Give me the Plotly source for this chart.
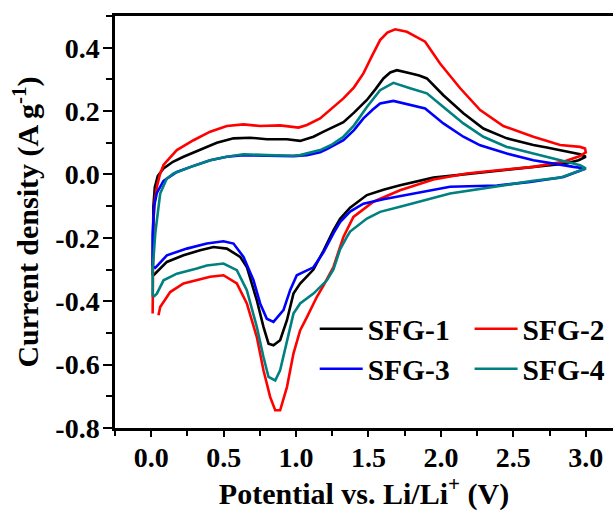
import plotly.graph_objects as go

# ---------------- data (potential V vs. current density A/g) ----------------
sfg1_v = [0.01, 0.01, 0.015, 0.025, 0.045, 0.085, 0.15, 0.223, 0.338, 0.453, 0.568, 0.683, 0.798, 0.937,
          1.028, 1.12, 1.19, 1.258, 1.327, 1.40, 1.489, 1.55, 1.603, 1.65, 1.696, 1.787, 1.85, 1.903, 2.017,
          2.155, 2.293, 2.455, 2.638, 2.731, 2.869, 2.961, 3.0,
          2.95, 2.869, 2.638, 2.409, 2.179, 1.948, 1.718, 1.603, 1.489, 1.373, 1.304, 1.258, 1.19, 1.12,
          1.028, 0.982, 0.937, 0.890, 0.844, 0.810, 0.775, 0.729, 0.660, 0.614, 0.522, 0.430, 0.338, 0.223,
          0.108, 0.016]
sfg1_i = [-0.318, -0.20, -0.10, -0.04, -0.005, 0.019, 0.040, 0.056, 0.077, 0.100, 0.114, 0.116, 0.111, 0.111,
          0.106, 0.119, 0.135, 0.150, 0.165, 0.195, 0.235, 0.27, 0.303, 0.322, 0.329, 0.319, 0.312, 0.303, 0.250,
          0.193, 0.145, 0.114, 0.093, 0.085, 0.072, 0.064, 0.056,
          0.045, 0.035, 0.024, 0.014, 0.003, -0.010, -0.034, -0.048, -0.065, -0.105, -0.140, -0.176, -0.24, -0.30,
          -0.344, -0.376, -0.460, -0.523, -0.539, -0.534, -0.481, -0.397, -0.292, -0.260, -0.234, -0.229, -0.239, -0.255,
          -0.276, -0.318]

sfg2_v = [0.01, 0.01, 0.015, 0.025, 0.039, 0.06, 0.085, 0.108, 0.177, 0.292, 0.407, 0.522, 0.637, 0.752,
          0.890, 1.017, 1.075, 1.166, 1.25, 1.327, 1.40, 1.465, 1.52, 1.580, 1.63, 1.684, 1.765, 1.84, 1.891,
          1.994, 2.133, 2.271, 2.431, 2.638, 2.823, 2.961, 2.995, 3.0,
          2.96, 2.846, 2.638, 2.409, 2.179, 1.948, 1.718, 1.534, 1.396, 1.327, 1.258, 1.19, 1.144, 1.075,
          1.028, 0.982, 0.937, 0.890, 0.856, 0.821, 0.775, 0.729, 0.660, 0.591, 0.499, 0.407, 0.315, 0.223,
          0.131, 0.062, 0.050]
sfg2_i = [-0.439, -0.30, -0.15, -0.08, -0.039, 0.0, 0.030, 0.042, 0.077, 0.108, 0.135, 0.153, 0.158, 0.153,
          0.155, 0.148, 0.156, 0.177, 0.21, 0.240, 0.275, 0.319, 0.37, 0.424, 0.448, 0.458, 0.450, 0.430, 0.419,
          0.350, 0.272, 0.203, 0.153, 0.119, 0.093, 0.087, 0.082, 0.070,
          0.058, 0.040, 0.024, 0.014, 0.003, -0.016, -0.050, -0.086, -0.134, -0.197, -0.292, -0.35, -0.386, -0.450,
          -0.492, -0.565, -0.671, -0.744, -0.744, -0.702, -0.618, -0.513, -0.407, -0.344, -0.318, -0.323, -0.334, -0.344,
          -0.371, -0.418, -0.444]

sfg3_v = [0.01, 0.01, 0.02, 0.039, 0.085, 0.177, 0.292, 0.407, 0.522, 0.637, 0.798, 0.982, 1.075, 1.166,
          1.213, 1.327, 1.40, 1.465, 1.530, 1.580, 1.672, 1.787, 1.891, 2.017, 2.155, 2.271, 2.455, 2.638,
          2.823, 2.915, 3.0,
          2.846, 2.616, 2.386, 2.063, 1.834, 1.603, 1.465, 1.373, 1.304, 1.258, 1.19, 1.12, 1.05, 1.005,
          0.959, 0.913, 0.844, 0.798, 0.752, 0.706, 0.637, 0.568, 0.499, 0.384, 0.246, 0.108, 0.028, 0.01]
sfg3_i = [-0.29, -0.19, -0.10, -0.058, -0.020, 0.008, 0.027, 0.045, 0.056, 0.061, 0.059, 0.058, 0.061, 0.070,
          0.080, 0.108, 0.140, 0.177, 0.205, 0.224, 0.232, 0.219, 0.208, 0.161, 0.119, 0.092, 0.066, 0.045,
          0.030, 0.024, 0.019,
          -0.008, -0.024, -0.035, -0.039, -0.058, -0.078, -0.092, -0.117, -0.150, -0.186, -0.245, -0.293, -0.308, -0.318,
          -0.365, -0.428, -0.465, -0.455, -0.407, -0.334, -0.260, -0.218, -0.211, -0.218, -0.234, -0.255, -0.295, -0.29]

sfg4_v = [0.01, 0.01, 0.028, 0.062, 0.108, 0.154, 0.292, 0.407, 0.522, 0.637, 0.798, 0.982, 1.028, 1.166,
          1.25, 1.327, 1.40, 1.489, 1.580, 1.672, 1.787, 1.903, 2.017, 2.155, 2.293, 2.455, 2.638, 2.823,
          2.961, 3.0,
          2.823, 2.638, 2.409, 2.27, 2.063, 1.718, 1.580, 1.489, 1.373, 1.351, 1.304, 1.258, 1.213, 1.120,
          1.028, 0.982, 0.937, 0.890, 0.856, 0.810, 0.775, 0.729, 0.660, 0.591, 0.499, 0.384, 0.315, 0.177,
          0.085, 0.039, 0.016]
sfg4_i = [-0.386, -0.30, -0.186, -0.060, -0.013, 0.003, 0.027, 0.045, 0.056, 0.064, 0.061, 0.059, 0.061, 0.077,
          0.095, 0.119, 0.155, 0.213, 0.266, 0.289, 0.272, 0.256, 0.213, 0.161, 0.119, 0.087, 0.066, 0.045,
          0.029, 0.019,
          -0.010, -0.020, -0.035, -0.045, -0.060, -0.102, -0.118, -0.139, -0.180, -0.197, -0.236, -0.30, -0.334, -0.376,
          -0.407, -0.439, -0.523, -0.618, -0.650, -0.639, -0.576, -0.481, -0.365, -0.302, -0.281, -0.287, -0.297, -0.313,
          -0.334, -0.376, -0.386]

series_names = ["SFG-1", "SFG-2", "SFG-3", "SFG-4"]
series_colors = ["#000000", "#FF0000", "#0000FF", "#008080"]

x_tickvals = [0.0, 0.5, 1.0, 1.5, 2.0, 2.5, 3.0]
x_ticktext = ["0.0", "0.5", "1.0", "1.5", "2.0", "2.5", "3.0"]
y_tickvals = [-0.8, -0.6, -0.4, -0.2, 0.0, 0.2, 0.4]
y_ticktext = ["-0.8", "-0.6", "-0.4", "-0.2", "0.0", "0.2", "0.4"]

# ---------------- figure ----------------
FONT = "Liberation Serif, Times New Roman, serif"
xs = [sfg1_v, sfg2_v, sfg3_v, sfg4_v]
ys = [sfg1_i, sfg2_i, sfg3_i, sfg4_i]
legend_ids = ["legend", "legend2", "legend3", "legend4"]

fig = go.Figure()
for name, xv, yv, col, lg in zip(series_names, xs, ys, series_colors, legend_ids):
    fig.add_trace(go.Scatter(x=xv, y=yv, mode="lines", name=name, legend=lg, showlegend=True,
                             line=dict(color=col, width=2.6)))

leg_common = dict(orientation="h", xanchor="left", yanchor="middle", itemwidth=43,
                  bgcolor="rgba(0,0,0,0)", borderwidth=0, visible=True,
                  font=dict(family=FONT, size=29.5, color="black", weight="bold"))
# legend positions (paper coords of the plot area)
col_x = [0.401, 0.712]
row_y = [0.240, 0.143]
fig.update_layout(
    showlegend=True,
    legend=dict(x=col_x[0], y=row_y[0], **leg_common),
    legend2=dict(x=col_x[1], y=row_y[0], **leg_common),
    legend3=dict(x=col_x[0], y=row_y[1], **leg_common),
    legend4=dict(x=col_x[1], y=row_y[1], **leg_common),
)

axis_font = dict(family=FONT, size=28, color="black", weight="bold")
title_font = dict(family=FONT, size=30, color="black", weight="bold")

fig.update_xaxes(
    range=[-0.25, 3.188], tickvals=x_tickvals, ticktext=x_ticktext, automargin=False,
    ticks="outside", ticklen=6, tickwidth=2, tickcolor="black", ticklabelstandoff=-3,
    minor=dict(dtick=0.25, tick0=0, ticks="outside", ticklen=5, tickwidth=2, tickcolor="black"),
    showline=True, linewidth=2.5, linecolor="black", mirror=True,
    showgrid=False, zeroline=False, tickfont=axis_font,
    title=dict(text="Potential vs. Li/Li<sup>+</sup> (V)", font=title_font, standoff=6),
)
fig.update_yaxes(
    range=[-0.8, 0.5], tickvals=y_tickvals, ticktext=y_ticktext, automargin=False,
    ticks="outside", ticklen=9, tickwidth=2, tickcolor="black", ticklabelstandoff=-2,
    minor=dict(dtick=0.1, tick0=0, ticks="outside", ticklen=6, tickwidth=2, tickcolor="black"),
    showline=True, linewidth=2.5, linecolor="black",
    showgrid=False, zeroline=False, tickfont=axis_font,
    title=dict(text="Current density (A g<sup>-1</sup>)", font=title_font, standoff=8),
)

fig.update_layout(
    width=613, height=511,
    margin=dict(l=115, r=0, t=16, b=83, autoexpand=False),
    paper_bgcolor="white", plot_bgcolor="white",
    font=dict(family=FONT, color="black"),
)

fig.write_html("out.html", config={"displayModeBar": False},
               post_script="document.body.style.margin='0';")
